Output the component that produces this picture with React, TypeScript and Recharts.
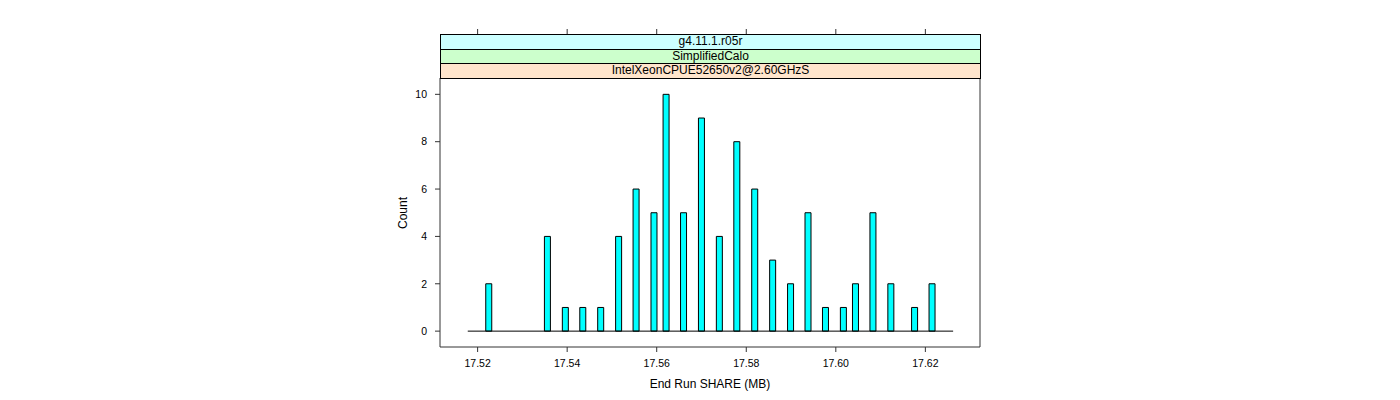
import React from "react";
import { BarChart, Bar, XAxis, YAxis, ReferenceLine } from "recharts";

// end-run SHARE values (MB) of the occupied bins and their counts
const shareMB = [
  17.5225, 17.5356, 17.5396, 17.5435, 17.5475, 17.5515, 17.5554, 17.5594,
  17.5621, 17.566, 17.57, 17.574, 17.5779, 17.5819, 17.5859, 17.5899,
  17.5938, 17.5977, 17.6017, 17.6044, 17.6083, 17.6123, 17.6176, 17.6215,
];
const counts = [2, 4, 1, 1, 1, 4, 6, 5, 10, 5, 9, 4, 8, 6, 3, 2, 5, 1, 1, 2, 5, 2, 1, 2];

const xTicks = [17.52, 17.54, 17.56, 17.58, 17.6, 17.62];
const yTicks = [0, 2, 4, 6, 8, 10];
const xDomain = [17.5116, 17.6322];
const yDomain = [-0.67, 10.69];
const binRange = [17.5178, 17.6262];

// strips, top to bottom
const strips = [
  { label: "g4.11.1.r05r", color: "#ccffff" },
  { label: "SimplifiedCalo", color: "#ccffcc" },
  { label: "IntelXeonCPUE52650v2@2.60GHzS", color: "#ffe5cc" },
];

const data = shareMB.map((share, i) => ({ share, count: counts[i] }));

const FONT = "'Liberation Sans', Arial, Helvetica, sans-serif";
const AXIS = "#333";

const PANEL = { left: 440, right: 980, top: 78, bottom: 347 };
const STRIP_TOP = 34;
const STRIP_H = (PANEL.top - STRIP_TOP) / strips.length;

const TopTick = (props: any) => (
  <line x1={props.x} x2={props.x} y1={STRIP_TOP - 5} y2={STRIP_TOP} stroke={AXIS} />
);

export default function App() {
  const tickStyle = { fontSize: 10.5, fill: "#000", fontFamily: FONT };
  return (
    <div
      style={{
        position: "fixed",
        left: 0,
        top: 0,
        width: 1400,
        height: 400,
        background: "#fff",
        fontFamily: FONT,
      }}
    >
      <BarChart
        width={1400}
        height={400}
        data={data}
        margin={{ left: PANEL.left - 50, right: 1400 - PANEL.right - 10, top: PANEL.top - 10, bottom: 400 - PANEL.bottom - 40 }}
      >
        <XAxis
          dataKey="share"
          type="number"
          domain={xDomain}
          allowDataOverflow
          ticks={xTicks}
          tickFormatter={(v: number) => v.toFixed(2)}
          height={40}
          tickSize={5}
          tickMargin={8}
          tick={tickStyle}
          stroke={AXIS}
          interval={0}
        />
        <XAxis
          xAxisId="top"
          orientation="top"
          dataKey="share"
          type="number"
          domain={xDomain}
          allowDataOverflow
          ticks={xTicks}
          height={10}
          tickLine={false}
          tick={<TopTick />}
          stroke={AXIS}
          interval={0}
        />
        <YAxis
          type="number"
          domain={yDomain}
          allowDataOverflow
          ticks={yTicks}
          width={50}
          tickSize={5}
          tickMargin={8}
          tick={tickStyle}
          stroke={AXIS}
          interval={0}
        />
        <YAxis
          yAxisId="right"
          orientation="right"
          type="number"
          domain={yDomain}
          allowDataOverflow
          ticks={yTicks}
          width={10}
          tickSize={5}
          tick={false}
          stroke={AXIS}
          interval={0}
        />
        <ReferenceLine
          segment={[
            { x: binRange[0], y: 0 },
            { x: binRange[1], y: 0 },
          ]}
          stroke="#000"
          ifOverflow="visible"
        />
        <Bar
          dataKey="count"
          barSize={6}
          fill="#00ffff"
          stroke="#000"
          strokeWidth={1}
          isAnimationActive={false}
        />
      </BarChart>

      {strips.map((s, i) => (
        <div
          key={s.label}
          style={{
            position: "absolute",
            left: PANEL.left,
            top: STRIP_TOP + i * STRIP_H,
            width: PANEL.right - PANEL.left + 1,
            height: STRIP_H + 1,
            boxSizing: "border-box",
            border: "1px solid #000",
            background: s.color,
            fontSize: 12,
            lineHeight: `${STRIP_H - 1}px`,
            textAlign: "center",
            color: "#000",
          }}
        >
          {s.label}
        </div>
      ))}

      <div
        style={{
          position: "absolute",
          left: 403 - 40,
          top: (PANEL.top + PANEL.bottom) / 2 - 8,
          width: 80,
          height: 16,
          lineHeight: "16px",
          textAlign: "center",
          fontSize: 12,
          transform: "rotate(-90deg)",
        }}
      >
        Count
      </div>
      <div
        style={{
          position: "absolute",
          left: PANEL.left,
          width: PANEL.right - PANEL.left,
          top: 376,
          height: 16,
          lineHeight: "16px",
          textAlign: "center",
          fontSize: 12,
        }}
      >
        End Run SHARE (MB)
      </div>
    </div>
  );
}
